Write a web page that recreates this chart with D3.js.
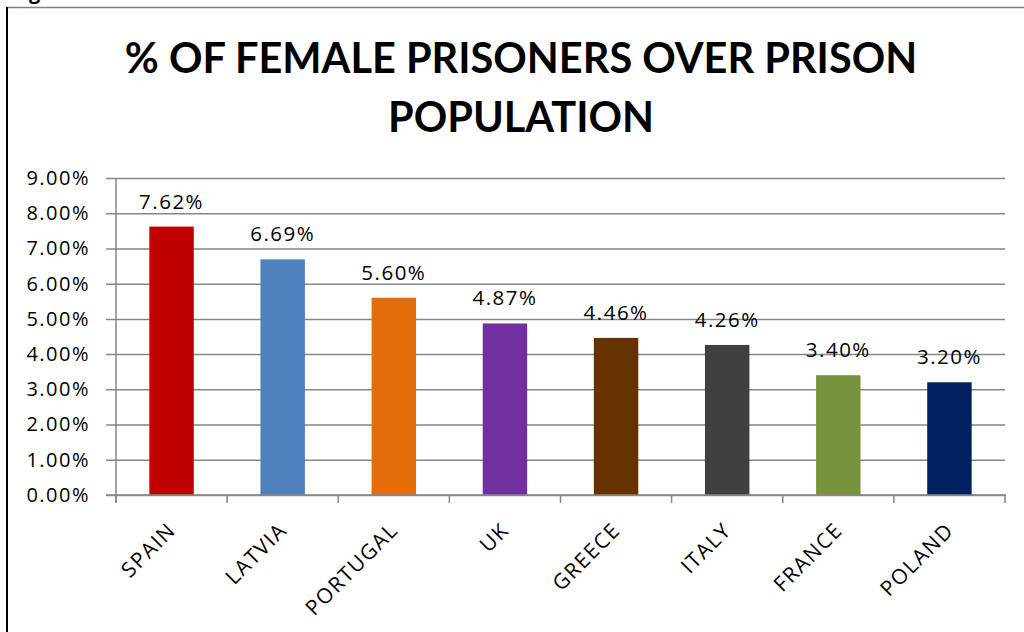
<!DOCTYPE html>
<html>
<head>
<meta charset="utf-8">
<script src="https://cdn.jsdelivr.net/npm/d3@7"></script>
<style>
  html, body { margin: 0; padding: 0; background: #fff; }
  svg { display: block; }
  text { font-family: "Open Sans", "Noto Sans", sans-serif; fill: #000; }
  .title { font-family: Lato, "Open Sans", sans-serif; font-weight: 700; }
</style>
</head>
<body>
<svg id="chart" width="1024" height="632"></svg>
<script>
const countries = ['SPAIN', 'LATVIA', 'PORTUGAL', 'UK', 'GREECE', 'ITALY', 'FRANCE', 'POLAND'];
const shares = [0.0762, 0.0669, 0.0560, 0.0487, 0.0446, 0.0426, 0.0340, 0.0320];
const barColors = ['#C00000', '#4F81BD', '#E46C0A', '#7030A0', '#663300', '#404040', '#77933C', '#002060'];
const yTicks = [0, 0.01, 0.02, 0.03, 0.04, 0.05, 0.06, 0.07, 0.08, 0.09];
const titleLines = ['% OF FEMALE PRISONERS OVER PRISON', 'POPULATION'];

const svg = d3.select('#chart');
const W = 1024, H = 632;
const plot = { left: 116, right: 1005, top: 178, bottom: 495 };
const pct = d3.format('.2%');

// frame of the cropped figure
svg.append('line')
  .attr('x1', 6).attr('x2', W).attr('y1', 7.5).attr('y2', 7.5)
  .attr('stroke', '#808080').attr('stroke-width', 1.5);
svg.append('line')
  .attr('x1', 7).attr('x2', 7).attr('y1', 7).attr('y2', H)
  .attr('stroke', '#000').attr('stroke-width', 2);
svg.append('text')
  .attr('x', 29).attr('y', -1)
  .style('font-size', '20px').style('font-weight', 700)
  .text('g');

// title
svg.append('g').selectAll('text')
  .data(titleLines)
  .enter().append('text')
  .attr('class', 'title')
  .attr('x', 521)
  .attr('y', (d, i) => 73 + i * 59)
  .attr('text-anchor', 'middle')
  .style('font-size', '41.5px')
  .text(d => d);

const x = d3.scaleBand().domain(countries)
  .range([plot.left, plot.right]).paddingInner(0.6).paddingOuter(0.3);
const y = d3.scaleLinear().domain([0, 0.09]).range([plot.bottom, plot.top]);
const edge = d3.scaleLinear().domain([0, countries.length]).range([plot.left, plot.right]);

// gridlines + y axis
const yAxis = d3.axisLeft(y).tickValues(yTicks).tickFormat(pct)
  .tickSize(-(plot.right - plot.left + 10)).tickSizeOuter(0).tickPadding(16);
const gy = svg.append('g').attr('transform', `translate(${plot.left - 10},0)`).call(yAxis);
gy.select('.domain').remove();
gy.selectAll('.tick line').attr('stroke', '#868686').attr('stroke-width', 1.5);
gy.selectAll('.tick text')
  .style('font-size', '20px').style('letter-spacing', '1.5px')
  .style('font-family', '"Open Sans", "Noto Sans", sans-serif')
  .attr('fill', '#000');

svg.append('line')
  .attr('x1', plot.left).attr('x2', plot.left)
  .attr('y1', plot.top).attr('y2', plot.bottom + 8)
  .attr('stroke', '#868686').attr('stroke-width', 1.5);

// x tick marks at category boundaries
svg.append('g').selectAll('line')
  .data(d3.range(countries.length + 1))
  .enter().append('line')
  .attr('x1', d => edge(d)).attr('x2', d => edge(d))
  .attr('y1', plot.bottom).attr('y2', plot.bottom + 8)
  .attr('stroke', '#868686').attr('stroke-width', 1.5);

// bars
const rows = countries.map((c, i) => ({ c, v: shares[i], color: barColors[i] }));
svg.append('g').selectAll('rect')
  .data(rows)
  .enter().append('rect')
  .attr('x', d => x(d.c))
  .attr('width', x.bandwidth())
  .attr('y', d => y(d.v))
  .attr('height', d => y(0) - y(d.v))
  .attr('fill', d => d.color);

// x axis line over bars
svg.append('line')
  .attr('x1', plot.left - 10).attr('x2', plot.right + 1)
  .attr('y1', plot.bottom).attr('y2', plot.bottom)
  .attr('stroke', '#868686').attr('stroke-width', 1.5);

// value labels
svg.append('g').selectAll('text')
  .data(rows)
  .enter().append('text')
  .attr('x', d => x(d.c) + x.bandwidth() / 2)
  .attr('y', d => y(d.v) - 18)
  .attr('text-anchor', 'middle')
  .style('font-size', '20.5px').style('letter-spacing', '1.5px')
  .text(d => pct(d.v));

// category labels
svg.append('g').selectAll('text')
  .data(countries)
  .enter().append('text')
  .attr('transform', d => `translate(${x(d) + x.bandwidth() / 2 - 5},${plot.bottom + 26}) rotate(-45)`)
  .attr('text-anchor', 'end')
  .attr('dy', '0.71em')
  .style('font-size', '21px').style('letter-spacing', '1.5px')
  .text(d => d);
</script>
</body>
</html>
